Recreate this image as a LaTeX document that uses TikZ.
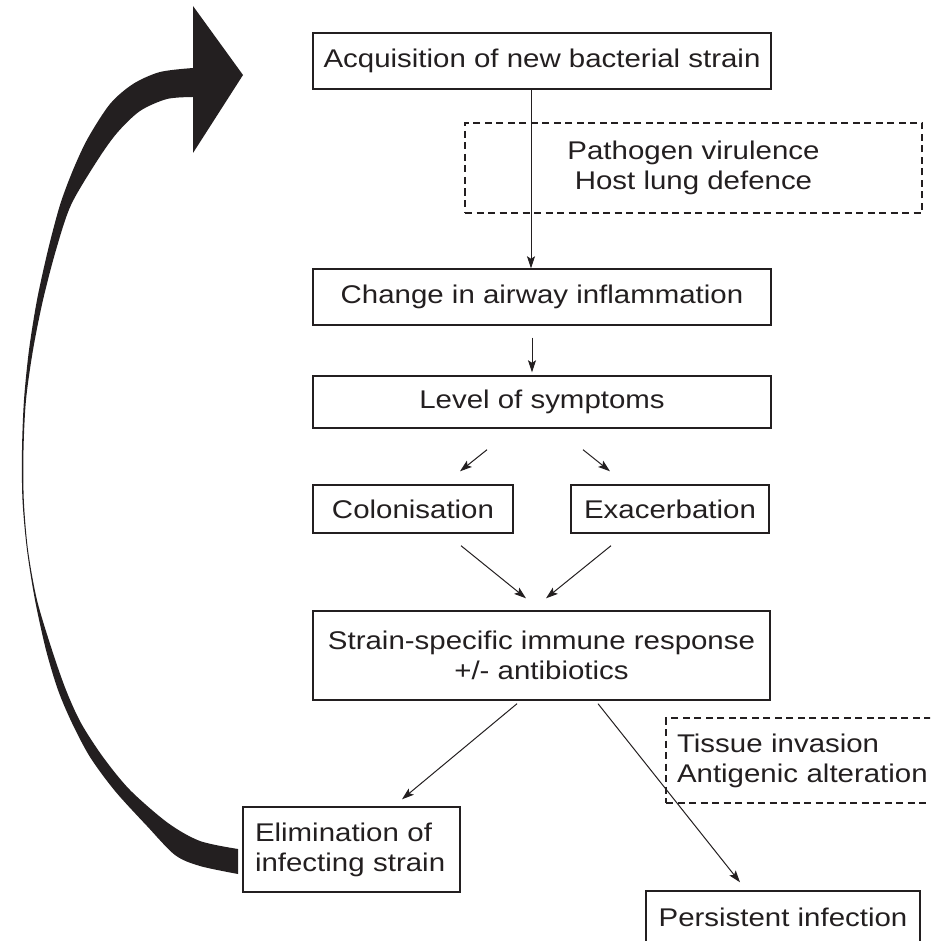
\documentclass[tikz,border=0pt]{standalone}
\usepackage{fontspec}
\setmainfont{Liberation Sans}[FakeStretch=1.15]
\usetikzlibrary{arrows.meta}
\definecolor{ink}{HTML}{231F20}
\begin{document}
\begin{tikzpicture}[x=1pt,y=-1pt,
  box/.style={draw=ink, line width=1.4pt, inner sep=0pt, align=center, text=ink, font=\fontsize{25.6}{30}\selectfont},
  dbox/.style={box, dash pattern=on 7pt off 4.5pt},
  conn/.style={draw=ink, line width=1pt, -{Stealth[length=12pt,width=8pt,inset=2.5pt]}},
]
\useasboundingbox (0,0) rectangle (930,941);
\clip (0,0) rectangle (930,941);

\node[box, minimum width=458pt, minimum height=56pt] (acq) at (542,61) {Acquisition of new bacterial strain};
\node[dbox, minimum width=457pt, minimum height=90pt] (path) at (693.5,168) {Pathogen virulence\\Host lung defence};
\node[box, minimum width=458pt, minimum height=56pt] (change) at (542,297) {Change in airway inflammation};
\node[box, minimum width=458pt, minimum height=52pt] (level) at (542,402) {Level of symptoms};
\node[box, minimum width=200pt, minimum height=48pt] (colon) at (413,509) {Colonisation};
\node[box, minimum width=198pt, minimum height=48pt] (exac) at (670,509) {Exacerbation};
\node[box, minimum width=457pt, minimum height=89pt] (strain) at (541.5,655.5) {Strain-specific immune response\\+/- antibiotics};
\node[box, text width=193pt, inner xsep=12pt, align=left, minimum height=85pt] (elim) at (351.5,849.5) {Elimination of\\infecting strain};
\node[dbox, text width=252pt, inner xsep=11pt, align=left, minimum height=85pt] (tis) at (803,760.5) {Tissue invasion\\Antigenic alteration};
\node[box, minimum width=274pt, minimum height=52pt] (persist) at (783,917) {Persistent infection};

\draw[conn] ([xshift=-11pt]acq.south) -- ([xshift=-11pt]change.north);
\draw[conn] ([xshift=-10pt,yshift=-12pt]change.south) -- ([xshift=-10pt,yshift=3pt]level.north);
\draw[conn] ([xshift=-55pt,yshift=-21pt]level.south) -- ([xshift=47pt,yshift=13pt]colon.north);
\draw[conn] ([xshift=41pt,yshift=-21pt]level.south) -- ([xshift=-60pt,yshift=13pt]exac.north);
\draw[conn] ([xshift=48pt,yshift=-12pt]colon.south) -- ([xshift=-15.5pt,yshift=12pt]strain.north);
\draw[conn] ([xshift=-59pt,yshift=-12pt]exac.south) -- ([xshift=4.5pt,yshift=12pt]strain.north);
\draw[conn] ([xshift=-24.5pt,yshift=-3pt]strain.south) -- ([xshift=50.5pt,yshift=7pt]elim.north);
\draw[conn] ([xshift=56.5pt,yshift=-3pt]strain.south) -- ([xshift=-43pt,yshift=8pt]persist.north);

% big return arrow
\fill[ink] plot[smooth, tension=0.5] coordinates {(238,874) (200,866) (175,855) (147,826) (115,791) (90,757) (72,723) (58,690) (46,650) (35,600) (27,550) (22.5,500) (22,450) (24,400) (29,350) (37,300) (48,250) (60,205) (73,170) (88,138) (110,104) (133,84) (160,72) (193,68)}
  -- plot[smooth, tension=0.5] coordinates {(193,97) (167,99) (140,111) (117,133) (97,161) (71,205) (56,250) (43,300) (33,350) (26,400) (23.5,450) (23.8,500) (28,550) (37,600) (52,650) (66,690) (81,723) (103,757) (130,790) (168,823) (200,841) (238,849)}
  -- cycle;
\fill[ink] (193,6) -- (243,75) -- (193,153) -- cycle;
\end{tikzpicture}
\end{document}
